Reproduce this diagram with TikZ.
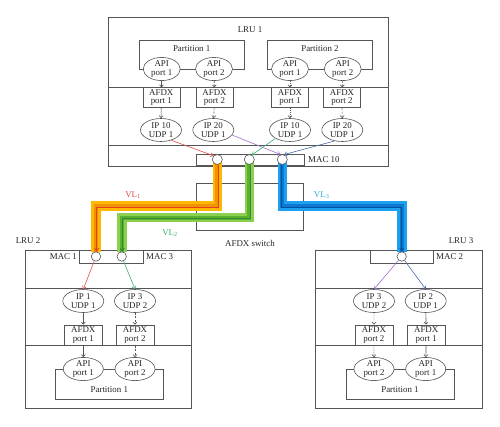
\documentclass[tikz,border=0pt]{standalone}
\usepackage{fontspec}
\setmainfont{Liberation Serif}
\usetikzlibrary{arrows.meta,shapes.geometric}
\definecolor{lc}{HTML}{555555}
\definecolor{cred}{HTML}{E0504A}
\definecolor{cpur}{HTML}{A070D0}
\definecolor{cgrn}{HTML}{3CB371}
\definecolor{cslt}{HTML}{4A6FA5}
\definecolor{oA}{HTML}{FFB800}
\definecolor{oB}{HTML}{F39200}
\definecolor{oC}{HTML}{E04020}
\definecolor{gA}{HTML}{8CD050}
\definecolor{gB}{HTML}{5DB02E}
\definecolor{gC}{HTML}{2E8B3A}
\definecolor{bA}{HTML}{1EA0F0}
\definecolor{bB}{HTML}{0A78D0}
\definecolor{bC}{HTML}{0050A0}
\definecolor{vlblue}{HTML}{33AADD}
\begin{document}
\begin{tikzpicture}[x=1pt,y=-1pt,
  font=\fontsize{8.9}{8.6}\selectfont,
  every node/.style={text=black!85, inner sep=0pt},
  box/.style={draw=lc, line width=0.6pt, rectangle, fill=white},
  ell/.style={draw=lc, line width=0.6pt, ellipse, fill=white, align=center},
  portbox/.style={box, align=center, minimum width=37, minimum height=20},
  apiell/.style={ell, minimum width=37, minimum height=19},
  ipell/.style={ell, minimum width=41, minimum height=23},
  mac/.style={draw=lc, line width=0.6pt, circle, fill=white, minimum size=9.4},
  sepline/.style={draw=lc, line width=0.6pt},
  arr/.style={draw=lc, line width=0.6pt, -{Straight Barb[length=2.2pt,width=4pt]}},
  dsh/.style={arr, dash pattern=on 2pt off 1.5pt},
  dtt/.style={arr, dash pattern=on 0.6pt off 1.4pt},
  carr/.style={line width=0.6pt, -{Straight Barb[length=2.5pt,width=4pt]}},
  bandA/.style={line width=9.6pt},
  bandB/.style={line width=4pt},
  bandC/.style={line width=0.9pt, -{Straight Barb[length=2.5pt,width=4pt]}}
]
\useasboundingbox (0,0) rectangle (500,426);

% ---------- LRU 1 ----------
\node[box, minimum width=280, minimum height=148.7] (lru1) at (248,91.5) {};
\node (lru1lab) at (250,30) {LRU 1};
\draw[sepline] (108,87.7) -- (388,87.7);
\draw[sepline] (108,145) -- (388,145);
\node[box, minimum width=104.7, minimum height=29] (p1) at (191.7,54.5) {};
\node (p1lab) at (191.7,48.5) {Partition 1};
\node[box, minimum width=105.4, minimum height=29] (p2) at (320,54.5) {};
\node (p2lab) at (320,48.5) {Partition 2};
\node[box, minimum width=108, minimum height=11.4] (mac10) at (250,159.8) {};
\node[anchor=west] (mac10lab) at (308,159.5) {MAC 10};

\node[apiell] (a1) at (161.7,69) {API\\port 1};
\node[apiell] (a2) at (214,69) {API\\port 2};
\node[apiell] (a3) at (290,69) {API\\port 1};
\node[apiell] (a4) at (342.7,69) {API\\port 2};
\node[portbox] (f1) at (161.3,97.7) {AFDX\\port 1};
\node[portbox] (f2) at (214.5,97.7) {AFDX\\port 2};
\node[portbox] (f3) at (290,97.7) {AFDX\\port 1};
\node[portbox] (f4) at (342,97.7) {AFDX\\port 2};
\node[ipell] (i1) at (161,130) {IP 10\\UDP 1};
\node[ipell] (i2) at (213.3,130) {IP 20\\UDP 1};
\node[ipell] (i3) at (290,130) {IP 10\\UDP 1};
\node[ipell] (i4) at (342.3,130) {IP 20\\UDP 1};

% ---------- switch ----------
\node[box, minimum width=107.3, minimum height=46.7] (sw) at (249.7,206.7) {};
\node (swlab) at (250,243) {AFDX switch};

% ---------- LRU 2 ----------
\node[box, minimum width=166.7, minimum height=158.3] (lru2) at (108.35,329.2) {};
\node (lru2lab) at (28,241) {LRU 2};
\draw[sepline] (25,288.3) -- (191.7,288.3);
\draw[sepline] (25,345.7) -- (191.7,345.7);
\node[box, minimum width=108.3, minimum height=30.3] (p3) at (109.2,384.2) {};
\node (p3lab) at (109.3,390) {Partition 1};
\node[box, minimum width=64.3, minimum height=13.3] (macb2) at (111.2,256.7) {};
\node[anchor=east] (mac1lab) at (77,256.5) {MAC 1};
\node[anchor=west] (mac3lab) at (146,256.5) {MAC 3};
\node[ipell] (j1) at (83.3,301) {IP 1\\UDP 1};
\node[ipell] (j3) at (135,301) {IP 3\\UDP 2};
\node[portbox, minimum width=38, minimum height=20.7] (g1) at (83.3,335.3) {AFDX\\port 1};
\node[portbox, minimum width=38, minimum height=20.7] (g2) at (135,335.3) {AFDX\\port 2};
\node[apiell, minimum width=40, minimum height=21] (b1) at (83.3,369) {API\\port 1};
\node[apiell, minimum width=40, minimum height=21] (b2) at (135,369) {API\\port 2};

% ---------- LRU 3 ----------
\node[box, minimum width=166.6, minimum height=158.3] (lru3) at (399,329.2) {};
\node (lru3lab) at (461,241) {LRU 3};
\draw[sepline] (315.7,288.3) -- (482.3,288.3);
\draw[sepline] (315.7,345.7) -- (482.3,345.7);
\node[box, minimum width=108.3, minimum height=30.3] (p4) at (400.2,384.2) {};
\node (p4lab) at (400,390) {Partition 1};
\node[box, minimum width=63.3, minimum height=13.3] (macb3) at (401.7,256.7) {};
\node[anchor=west] (mac2lab) at (436,256.5) {MAC 2};
\node[ipell] (k3) at (374,301) {IP 3\\UDP 2};
\node[ipell] (k2) at (425.7,301) {IP 2\\UDP 1};
\node[portbox, minimum width=38, minimum height=20.7] (h2) at (373.9,335.3) {AFDX\\port 2};
\node[portbox, minimum width=38, minimum height=20.7] (h1) at (426.2,335.3) {AFDX\\port 1};
\node[apiell, minimum width=40, minimum height=21] (d2) at (374,369) {API\\port 2};
\node[apiell, minimum width=40, minimum height=21] (d1) at (425.7,369) {API\\port 1};

% ---------- VL bands ----------
\coordinate (v1a) at (217.3,206);
\coordinate (v1b) at (96,206);
\coordinate (v2a) at (249.3,217.5);
\coordinate (v2b) at (121.7,217.5);
\coordinate (v3a) at (282.3,206);
\coordinate (v3b) at (401.7,206);
\coordinate (w1a) at (218.0,207);
\coordinate (w1b) at (96.6,207);
\coordinate (w2a) at (250.0,218.5);
\coordinate (w2b) at (122.3,218.5);
\coordinate (w3a) at (281.6,207);
\coordinate (w3b) at (401.7,207);
\coordinate (c1s) at (217.3,159.5);
\coordinate (c2s) at (249.3,159.5);
\coordinate (c3s) at (282.3,159.5);
\coordinate (m1n) at (96,251.5);
\coordinate (m3n) at (121.7,251.5);
\coordinate (m2n) at (401.7,251.5);

\draw[bandA, oA] (c1s) -- (v1a) -- (v1b) -- (m1n);
\draw[bandB, oB] (c1s) -- (v1a) -- (v1b) -- (m1n);
\draw[bandA, gA] (c2s) -- (v2a) -- (v2b) -- (m3n);
\draw[bandB, gB] (c2s) -- (v2a) -- (v2b) -- (m3n);
\draw[bandA, bA] (c3s) -- (v3a) -- (v3b) -- (m2n);
\draw[bandB, bB] (c3s) -- (v3a) -- (v3b) -- (m2n);

% MAC circles
\node[mac, minimum size=10] (c1) at (217.3,159.5) {};
\node[mac, minimum size=10] (c2) at (249.3,159.5) {};
\node[mac, minimum size=10] (c3) at (282.3,159.5) {};
\node[mac] (m1) at (96,256.5) {};
\node[mac] (m3) at (121.7,256.5) {};
\node[mac] (m2) at (401.7,256.5) {};

\draw[bandC, oC] (c1.south -| w1a) -- (w1a) -- (w1b) -- (m1.north -| w1b);
\draw[bandC, gC] (c2.south -| w2a) -- (w2a) -- (w2b) -- (m3.north -| w2b);
\draw[bandC, bC] (c3.south -| w3a) -- (w3a) -- (w3b) -- (m2.north);

\node[text=cred] (vl1) at (133,195) {VL\textsubscript{1}};
\node[text=cgrn] (vl2) at (170,233) {VL\textsubscript{2}};
\node[text=vlblue] (vl3) at (321.7,195) {VL\textsubscript{3}};

% ---------- internal arrows LRU 1 ----------
\draw[arr] (a1) -- (f1);
\draw[dsh] (a2) -- (f2);
\draw[dtt] (a3) -- (f3);
\draw[dsh] (a4) -- (f4);
\draw[arr] (f1) -- (i1);
\draw[dsh] (f2) -- (i2);
\draw[dtt] (f3) -- (i3);
\draw[dsh] (f4) -- (i4);
\draw[carr, cred] (i1.-45) -- (c1.north west);
\draw[carr, cpur] (i2.-15) -- (c3.110);
\draw[carr, cgrn] (i3.-150) -- (c2.60);
\draw[carr, cslt] (i4.-125) -- (c3.70);

% ---------- internal arrows LRU 2 ----------
\draw[carr, cred] (m1) -- (j1.north);
\draw[carr, cgrn] (m3) -- (j3.north);
\draw[arr] (j1) -- (g1);
\draw[dsh] (j3) -- (g2);
\draw[arr] (g1) -- (b1);
\draw[dsh] (g2) -- (b2);

% ---------- internal arrows LRU 3 ----------
\draw[carr, cpur] (m2) -- (k3.north);
\draw[carr, cslt] (m2) -- (k2.north);
\draw[dtt] (k3) -- (h2);
\draw[arr] (k2) -- (h1);
\draw[dtt] (h2) -- (d2);
\draw[arr] (h1) -- (d1);
\end{tikzpicture}
\end{document}
